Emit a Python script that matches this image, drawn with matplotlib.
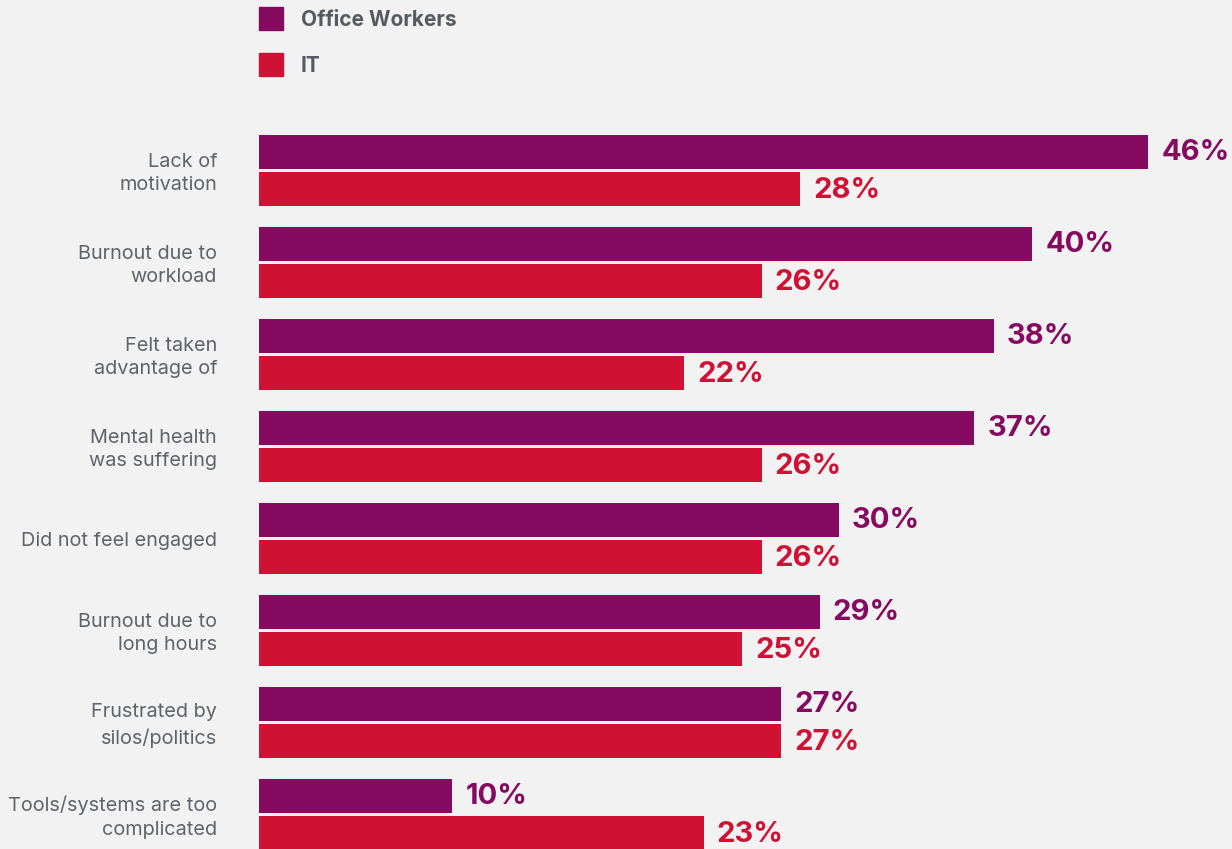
import matplotlib.pyplot as plt
from matplotlib.patches import Rectangle

# Data
categories = ["Lack of\nmotivation", "Burnout due to\nworkload", "Felt taken\nadvantage of",
              "Mental health\nwas suffering", "Did not feel engaged", "Burnout due to\nlong hours",
              "Frustrated by\nsilos/politics", "Tools/systems are too\ncomplicated"]
office_workers = [46, 40, 38, 37, 30, 29, 27, 10]
it_staff = [28, 26, 22, 26, 26, 25, 27, 23]
series_names = ["Office Workers", "IT"]

PURPLE = "#850a60"
RED = "#cf1234"
BG = "#f2f2f2"
TEXT = "#5f6368"

W, H = 1232, 849
fig = plt.figure(figsize=(W / 100, H / 100), dpi=100, facecolor=BG)

# axes spans from bar origin to the right edge, full height (pixel layout)
x0 = 259
px_per_pct = 19.33
pitch = 92.0
first_center = 170.5
ax = fig.add_axes([x0 / W, 0, 1 - x0 / W, 1])
ax.set_facecolor(BG)
ax.set_xlim(0, (W - x0) / px_per_pct)
ax.set_ylim((H - first_center) / pitch, -first_center / pitch)
ax.axis("off")

bar_h = 34 / pitch
off = 18.5 / pitch
pad = 13 / px_per_pct
for i, (ow, it) in enumerate(zip(office_workers, it_staff)):
    ax.barh(i - off, ow, height=bar_h, color=PURPLE)
    ax.barh(i + off, it, height=bar_h, color=RED)
    ax.text(ow + pad, i - off + 1 / pitch, f"{ow}%", color=PURPLE, fontsize=21, fontweight="bold",
            family="Inter", va="center", ha="left")
    ax.text(it + pad, i + off + 2 / pitch, f"{it}%", color=RED, fontsize=21, fontweight="bold",
            family="Inter", va="center", ha="left")
    fig.text(217 / W, 1 - (first_center + 3 + i * pitch) / H, categories[i], color=TEXT,
             fontsize=14.3, family="Inter", ha="right", va="center", linespacing=1.42)

# legend
for k, (name, col) in enumerate(zip(series_names, [PURPLE, RED])):
    ytop = 7 + k * 46
    fig.patches.append(Rectangle((259 / W, 1 - (ytop + 23) / H), 24 / W, 23 / H,
                                 transform=fig.transFigure, color=col))
    fig.text(301 / W, 1 - (ytop + 13) / H, name, color="#555a61", fontsize=15,
             fontweight="bold", family="Inter", ha="left", va="center")

fig.savefig("out.png", dpi=100, facecolor=BG)
